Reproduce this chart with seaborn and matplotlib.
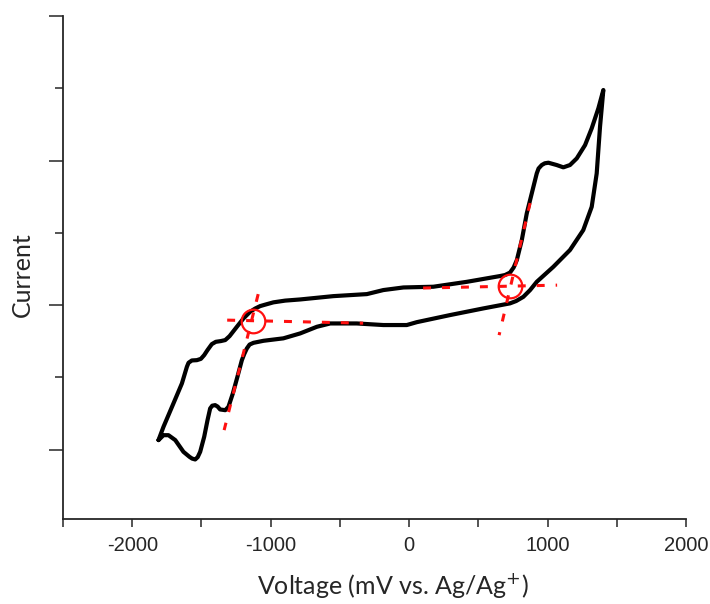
import numpy as np
import pandas as pd
import matplotlib
matplotlib.use("Agg")
import matplotlib.pyplot as plt
import seaborn as sns

# ---- data ----
voltage = [-1810, -1774, -1702, -1641, -1605, -1593, -1569, -1533, -1504, -1480,
           -1456, -1425, -1396, -1360, -1328, -1297, -1244, -1196, -1148, -1112,
           -1076, -1040, -980, -895, -787, -547, -305, -186, -41, 175,
           417, 657, 693, 729, 755, 778, 814, 850, 886, 922,
           935, 958, 980, 1006, 1066, 1114, 1162, 1211, 1271, 1319,
           1367, 1403,
           1379, 1355, 1319, 1258, 1162, 1042, 922, 874, 825, 773,
           729, 536, 296, 56, -17, -186, -378, -570, -666, -787,
           -908, -1052, -1124, -1152, -1172, -1191, -1208, -1240, -1273, -1305,
           -1328, -1365, -1383, -1401, -1422, -1437, -1456, -1480, -1509, -1527,
           -1545, -1567, -1586, -1630, -1689, -1738, -1774, -1810]
current = [-0.934, -0.842, -0.680, -0.542, -0.427, -0.399, -0.383, -0.381, -0.372, -0.346,
           -0.311, -0.270, -0.254, -0.249, -0.242, -0.215, -0.150, -0.092, -0.046, -0.024,
           -0.007, 0.003, 0.019, 0.031, 0.039, 0.062, 0.076, 0.104, 0.122, 0.127,
           0.161, 0.201, 0.208, 0.225, 0.260, 0.311, 0.450, 0.635, 0.773, 0.911,
           0.945, 0.969, 0.981, 0.985, 0.969, 0.953, 0.969, 1.015, 1.107, 1.223,
           1.361, 1.488,
           1.234, 0.911, 0.680, 0.519, 0.381, 0.265, 0.161, 0.104, 0.057, 0.028,
           0.012, -0.023, -0.069, -0.118, -0.138, -0.138, -0.127, -0.127, -0.150, -0.196,
           -0.230, -0.247, -0.261, -0.273, -0.300, -0.339, -0.381, -0.496, -0.611, -0.704,
           -0.727, -0.722, -0.702, -0.692, -0.696, -0.715, -0.796, -0.911, -1.015, -1.052,
           -1.068, -1.062, -1.050, -1.015, -0.934, -0.900, -0.900, -0.934]

# tangent construction lines (onset estimation)
left_base_v = [-1314, -332]
left_base_i = [-0.104, -0.125]
left_slope_v = [-1090, -1336]
left_slope_i = [0.076, -0.865]
left_onset_v = [-1130]
left_onset_i = [-0.107]

right_base_v = [101, 1069]
right_base_i = [0.118, 0.138]
right_slope_v = [874, 650]
right_slope_i = [0.706, -0.208]
right_onset_v = [729]
right_onset_i = [0.131]

x_ticks = [-2000, -1000, 0, 1000, 2000]
x_label = "Voltage (mV vs. Ag/Ag$^{+}$)"
y_label = "Current"

# ---- plotting ----
sns.set_style("ticks")
plt.rcParams["font.family"] = ["Liberation Sans", "DejaVu Sans"]
plt.rcParams["axes.unicode_minus"] = False

fig = plt.figure(figsize=(7.10, 6.04), dpi=100)
ax = fig.add_axes([0.0887, 0.1407, 0.8775, 0.8328])

cv = pd.DataFrame({"V": voltage, "I": current})
sns.lineplot(data=cv, x="V", y="I", sort=False, estimator=None, color="black",
             linewidth=3.0, ax=ax, solid_joinstyle="round", solid_capstyle="round")

red = "#ff1010"
dash = dict(color=red, linewidth=2.2, dashes=(2.6, 3.6), estimator=None, sort=False, ax=ax)
for vx, iy in [(left_base_v, left_base_i), (left_slope_v, left_slope_i),
               (right_base_v, right_base_i), (right_slope_v, right_slope_i)]:
    sns.lineplot(x=vx, y=iy, **dash)

for vx, iy in [(left_onset_v, left_onset_i), (right_onset_v, right_onset_i)]:
    ax.plot(vx, iy, linestyle="none", marker="o", markersize=17,
            markerfacecolor="none", markeredgecolor=red, markeredgewidth=1.6)

ax.set_xlim(-2500, 2000)
ax.set_ylim(-1.48, 2.0)
ax.set_xticks(x_ticks)
ax.set_xticks([-2500, -1500, -500, 500, 1500], minor=True)
ax.set_yticks([-1, 0, 1, 2])
ax.set_yticks([-0.5, 0.5, 1.5], minor=True)
ax.set_yticklabels([])
ax.tick_params(axis="x", which="major", length=6, width=1.1, labelsize=14.5, pad=6)
ax.tick_params(axis="x", which="minor", length=6, width=1.1)
ax.tick_params(axis="y", which="major", length=10, width=1.1)
ax.tick_params(axis="y", which="minor", length=6, width=1.1)

for s in ["top", "right"]:
    ax.spines[s].set_visible(False)
for s in ["left", "bottom"]:
    ax.spines[s].set_linewidth(1.3)

ax.set_xlabel(x_label, fontsize=18, family=["Lato", "DejaVu Sans"])
ax.set_ylabel(y_label, fontsize=18, family=["Lato", "DejaVu Sans"])
ax.xaxis.set_label_coords(0.53, -0.103)
ax.yaxis.set_label_coords(-0.046, 0.485)

fig.savefig("out.png", dpi=100)
